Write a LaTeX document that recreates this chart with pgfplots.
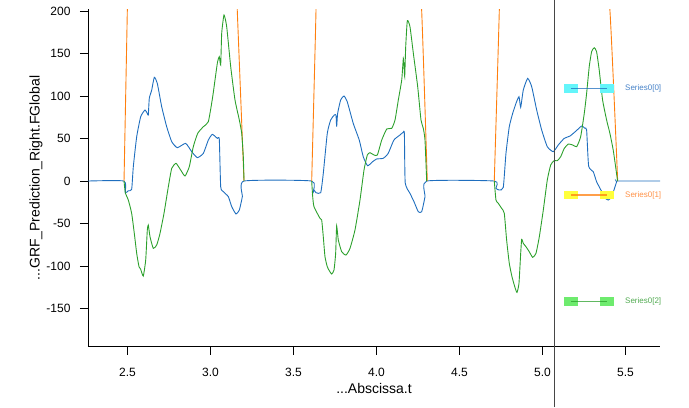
\documentclass[border=0pt]{standalone}
\usepackage{pgfplots}
\pgfplotsset{compat=1.18}
\usepackage{fontspec}
\setmainfont{Liberation Sans}
\usetikzlibrary{calc}

\definecolor{sblue}{RGB}{31,110,190}
\definecolor{sorange}{RGB}{255,127,14}
\definecolor{sgreen}{RGB}{44,160,44}
\definecolor{tblue}{RGB}{70,130,200}
\definecolor{torange}{RGB}{255,145,70}
\definecolor{tgreen}{RGB}{80,170,80}
\definecolor{cursor}{RGB}{70,70,70}
\definecolor{lcyan}{RGB}{100,245,250}
\definecolor{lyellow}{RGB}{255,255,60}
\definecolor{lgreen}{RGB}{110,235,110}

\begin{document}
\begin{tikzpicture}
\begin{axis}[
    name=ax,
    scale only axis,
    width=572pt, height=337.5pt,
    xmin=2.262, xmax=5.708,
    ymin=-195, ymax=202,
    axis lines=left,
    axis line style={-, line width=0.8pt},
    tick style={line width=0.8pt, black},
    tick align=outside,
    major tick length=8pt,
    xtick={2.5,3.0,3.5,4.0,4.5,5.0,5.5},
    ytick={-150,-100,-50,0,50,100,150,200},
    xticklabel shift=10pt,
    yticklabel shift=6pt,
    ylabel shift=-3pt,
    clip mode=individual,
    unbounded coords=jump,
    /pgf/number format/assume math mode=true,
    tick label style={font=\fontsize{12}{14}\selectfont},
    xticklabel style={/pgf/number format/.cd, fixed, fixed zerofill, precision=1},
    label style={font=\fontsize{14}{16}\selectfont},
    xlabel={...Abscissa.t},
    ylabel={...GRF\_Prediction\_Right.FGlobal},
    every axis plot/.append style={line width=0.9pt, smooth, tension=0.3},
]

% Series0[0]
\addplot[sblue] coordinates {
(2.262,0) (2.479,0) (2.4867,-13.7) (2.505,-11.5) (2.525,-9.8) (2.535,16.9) (2.5554,52.1)
(2.5795,75.7) (2.6054,83.5) (2.6193,79.6) (2.6253,77.6) (2.6313,97.3) (2.6458,107)
(2.6614,122) (2.6795,114.9) (2.706,87.4) (2.736,63.9) (2.7663,46.3) (2.80,39.2)
(2.8506,44.3) (2.8867,34.5) (2.9207,27.5) (2.9568,32.5) (2.987,48.2) (3.011,54.9)
(3.041,50.2) (3.053,49) (3.0614,-6.7) (3.0775,-12.5) (3.1075,-18.4) (3.1279,-30.2)
(3.1536,-38.8) (3.1737,-34.1) (3.1918,-18.4) (3.202,0)
(3.6096,0) (3.6157,-14.5) (3.6235,-10.6) (3.6355,-13.7) (3.6639,-13.7) (3.6795,9.0)
(3.7036,56.1) (3.724,71.8) (3.7458,77.6) (3.756,77.6) (3.760,63.9) (3.766,79.6)
(3.784,95.3) (3.8039,100) (3.8238,93.3) (3.86,67.8) (3.8961,48.2) (3.9202,28.6)
(3.9464,18.0) (3.9765,22.7) (4.0006,25.9) (4.0404,26.7) (4.0705,32.5) (4.1048,48.2)
(4.141,54.1) (4.161,57.3) (4.168,56) (4.173,-2.0) (4.2018,-14.5) (4.2259,-24.3)
(4.2518,-36.1) (4.2723,-36.1) (4.2922,-18.4) (4.3024,0)
(4.7096,0) (4.7199,-8.6) (4.7398,-10.6) (4.7639,-7.5) (4.78,32.5) (4.8,63.9)
(4.8205,79.6) (4.8404,91.4) (4.8584,99.2) (4.8687,86.7) (4.8843,107) (4.9108,120.8)
(4.935,111) (4.9651,83.5) (4.9952,60) (5.029,40.4) (5.0651,34.5) (5.0952,42.4)
(5.1313,50.2) (5.1657,52.9) (5.2018,58.8) (5.236,64.7) (5.256,62) (5.266,60)
(5.278,17.6) (5.306,10.9) (5.326,-0.8) (5.357,-12.5) (5.3719,-19.2) (5.396,-22.4)
(5.417,-18.4) (5.447,-0.8) (5.4524,0) (5.708,0)
};

% Series0[1]
\addplot[sorange] coordinates {
(2.479,0) (2.4988,200) (2.51,330) (2.53,520) (2.56,650) (2.6,700) (2.9,650) (3.1,500) (3.1614,200) (3.2018,0)
(3.4,nan)
(3.6096,0) (3.6355,200) (3.66,450) (3.7,650) (4.0,680) (4.2,500) (4.2723,200) (4.306,0)
(4.5,nan)
(4.7096,0) (4.7398,200) (4.77,450) (4.8,650) (5.1,680) (5.3,500) (5.4066,200) (5.453,0)
};

% Series0[2]
\addplot[sgreen] coordinates {
(2.479,0) (2.4867,-13.7) (2.505,-22.4) (2.525,-38) (2.541,-61.6) (2.5554,-85.1)
(2.5693,-100.8) (2.5795,-103.9) (2.595,-111.8) (2.6096,-92.9) (2.6193,-57.6)
(2.6253,-51.8) (2.6355,-65.5) (2.6554,-79.2) (2.6759,-75.3) (2.6958,-61.6)
(2.7199,-38) (2.746,-6.7) (2.7663,14.9) (2.7922,20.8) (2.8205,12.9) (2.8464,5.9)
(2.8723,16.9) (2.8964,40.4) (2.923,56.1) (2.9568,63.9) (2.987,69.8) (3.0133,99.2)
(3.041,138.4) (3.053,146.3) (3.0614,136.5) (3.0675,173.8) (3.0813,195.3)
(3.0976,181.5) (3.1217,134.5) (3.1476,95.3) (3.1737,71.8) (3.188,56.1)
(3.1976,28.6) (3.202,0)
(3.4,nan)
(3.6096,0) (3.6157,-18.4) (3.6235,-30.2) (3.6596,-43.9) (3.6699,-45.9) (3.6795,-65.5)
(3.6898,-89.1) (3.7036,-100.8) (3.7157,-105.5) (3.73,-109.4) (3.744,-104.7)
(3.754,-85.1) (3.76,-52.9) (3.77,-69.4) (3.7904,-83.2) (3.8163,-87.1) (3.8404,-79.2)
(3.8705,-57.6) (3.9006,-22.4) (3.9247,12.9) (3.9448,30.6) (3.961,33.3) (3.985,30.6)
(4.0052,30.6) (4.0316,48.2) (4.0617,61.2) (4.0918,62.0) (4.1117,71.8) (4.1315,95.3)
(4.152,118.8) (4.1617,144.3) (4.166,135) (4.17,122.7) (4.176,158) (4.1858,188.6)
(4.2018,181.5) (4.222,150.2) (4.2482,111) (4.2681,71.8) (4.282,62) (4.2922,48.2)
(4.3024,0)
(4.5,nan)
(4.7096,0) (4.7199,-22.4) (4.7338,-26.3) (4.754,-32.1) (4.7699,-38) (4.784,-69.4)
(4.8,-96.8) (4.8163,-112.6) (4.8343,-125.1) (4.8464,-131) (4.8584,-120.4)
(4.8687,-85.1) (4.8747,-68.6) (4.8843,-73.3) (4.9006,-77.3) (4.9205,-83.2)
(4.941,-89.8) (4.9608,-85.1) (4.981,-65.5) (5.005,-34.1) (5.029,1.2) (5.0494,18.8)
(5.0693,23.9) (5.0892,23.9) (5.1097,28.6) (5.1313,38.4) (5.1554,43.5) (5.1819,42.4)
(5.206,40.4) (5.23,52.1) (5.2518,79.6) (5.266,103.2) (5.2816,134.5) (5.296,152.1)
(5.3117,156.8) (5.326,152.1) (5.3418,130.6) (5.3622,95.3) (5.3863,71.8)
(5.4062,56.1) (5.4261,36.5) (5.4406,16.9) (5.4524,0)
};

% cursor line
\draw[cursor, line width=0.7pt] (axis cs:5.069,-265.9) -- (axis cs:5.069,212.9);

% legend
\fill[lcyan] (axis cs:5.1295,103.5) rectangle (axis cs:5.2139,113.7);
\fill[lcyan] (axis cs:5.3464,103.5) rectangle (axis cs:5.4307,113.7);
\draw[sblue, line width=1.6pt, opacity=0.75] (axis cs:5.1717,108.6) -- (axis cs:5.3886,108.6);
\node[anchor=west, text=tblue, inner sep=0pt, font=\fontsize{8}{9}\selectfont] at (axis cs:5.497,108.6) {Series0[0]};

\fill[lyellow] (axis cs:5.1295,-21.6) rectangle (axis cs:5.2139,-11.4);
\fill[lyellow] (axis cs:5.3464,-21.6) rectangle (axis cs:5.4307,-11.4);
\draw[sorange, line width=1.6pt, opacity=0.75] (axis cs:5.1717,-16.5) -- (axis cs:5.3886,-16.5);
\node[anchor=west, text=torange, inner sep=0pt, font=\fontsize{8}{9}\selectfont] at (axis cs:5.497,-16.5) {Series0[1]};

\fill[lgreen] (axis cs:5.1295,-146.6) rectangle (axis cs:5.2139,-136.4);
\fill[lgreen] (axis cs:5.3464,-146.6) rectangle (axis cs:5.4307,-136.4);
\draw[sgreen, line width=1.6pt, opacity=0.75] (axis cs:5.1717,-141.5) -- (axis cs:5.3886,-141.5);
\node[anchor=west, text=tgreen, inner sep=0pt, font=\fontsize{8}{9}\selectfont] at (axis cs:5.497,-141.5) {Series0[2]};
\end{axis}
\pgfresetboundingbox
\path ($(ax.south west)+(-88pt,-60.25pt)$) rectangle ($(ax.north east)+(29pt,9.3pt)$);
\end{tikzpicture}
\end{document}
